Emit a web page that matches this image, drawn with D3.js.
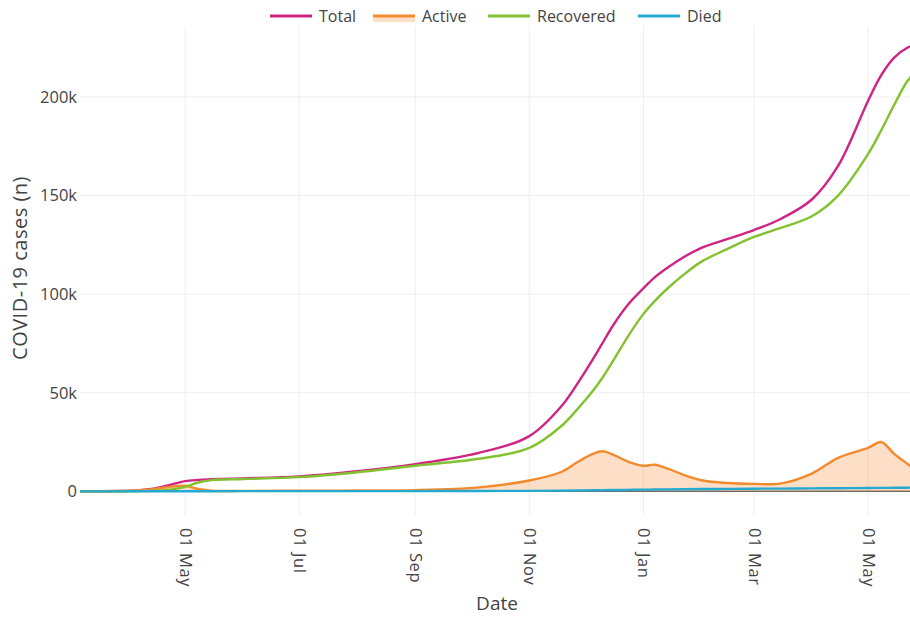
<!DOCTYPE html>
<html>
<head>
<meta charset="utf-8">
<script src="https://cdn.jsdelivr.net/npm/d3@7/dist/d3.min.js"></script>
<style>
  body { margin: 0; background: #fff; }
  text { font-family: 'Open Sans', 'DejaVu Sans', sans-serif; fill: #444; }
</style>
</head>
<body>
<svg id="chart" width="910" height="618"></svg>
<script>
// -----------
// DATOS
// -----------
const fechas = ['2020-03-06', '2020-03-25', '2020-04-05', '2020-04-15', '2020-04-22', '2020-05-01',
  '2020-05-08', '2020-05-15', '2020-06-01', '2020-07-01', '2020-08-01', '2020-09-01', '2020-10-05',
  '2020-11-01', '2020-11-18', '2020-11-27', '2020-12-05', '2020-12-10', '2020-12-16', '2020-12-24',
  '2021-01-01', '2021-01-07', '2021-01-14', '2021-01-22', '2021-02-01', '2021-02-15', '2021-03-01',
  '2021-03-15', '2021-04-01', '2021-04-15', '2021-05-01', '2021-05-08', '2021-05-15', '2021-05-22',
  '2021-05-28'];
const total = [0, 150, 500, 1500, 3000, 5200, 5800, 6100, 6600, 7600, 10200, 13800, 19500,
  28000, 43000, 55000, 67000, 75000, 84500, 95000, 103000, 108500, 113500, 118500, 123500,
  128000, 132500, 138000, 148000, 165000, 198000, 211000, 220000, 225000, 227000];
const active = [0, 120, 400, 1200, 2200, 2800, 1200, 300, 250, 300, 400, 600, 2000,
  5500, 9800, 15000, 19000, 20300, 18500, 15000, 13000, 13500, 11500, 8500, 5600,
  4200, 3800, 3900, 9000, 17000, 22000, 25000, 19000, 14000, 10000];
const recovered = [0, 20, 80, 280, 750, 2300, 4500, 5700, 6250, 7200, 9700, 13000, 16500,
  22000, 33000, 42000, 51000, 57500, 66500, 79000, 90000, 96500, 103000, 109500, 116500,
  123000, 129000, 133500, 139500, 150000, 171000, 183000, 196000, 208000, 214000];
const died = [0, 2, 10, 25, 40, 60, 70, 80, 90, 100, 110, 130, 180,
  250, 350, 450, 550, 600, 650, 750, 850, 900, 1000, 1050, 1150,
  1250, 1350, 1400, 1500, 1600, 1700, 1750, 1800, 1850, 1900];
const yTicks = [0, 50000, 100000, 150000, 200000];
const series = [
  { name: 'Total', values: total, color: '#cf2483' },
  { name: 'Active', values: active, color: '#f38a2e', fill: 'rgba(248, 150, 70, 0.3)' },
  { name: 'Recovered', values: recovered, color: '#82c12f' },
  { name: 'Died', values: died, color: '#25a9cf' },
];

const parseFecha = d3.utcParse('%Y-%m-%d');
const dias = fechas.map(parseFecha);

// -----------
// ESCALAS
// -----------
const W = 910;
const mLeft = 80;
const mTop = 26;
const mBottom = 515;

const x = d3.scaleUtc()
  .domain([parseFecha('2020-05-01'), parseFecha('2021-05-01')])
  .range([185, 868]);
const y = d3.scaleLinear()
  .domain([-12000, 236000])
  .range([mBottom, mTop]);

const svg = d3.select('#chart');

svg.append('clipPath').attr('id', 'clip')
  .append('rect')
  .attr('x', mLeft).attr('y', mTop)
  .attr('width', W - mLeft).attr('height', mBottom - mTop);

// grilla
const xTicks = d3.utcMonth.every(2).range(x.invert(mLeft), x.invert(W + 40));
svg.append('g').selectAll('line').data(xTicks).join('line')
  .attr('x1', (d) => x(d)).attr('x2', (d) => x(d))
  .attr('y1', mTop).attr('y2', mBottom)
  .attr('stroke', '#eee').attr('stroke-width', 1);
svg.append('g').selectAll('line').data(yTicks.filter((d) => d !== 0)).join('line')
  .attr('x1', mLeft).attr('x2', W)
  .attr('y1', (d) => y(d)).attr('y2', (d) => y(d))
  .attr('stroke', '#eee').attr('stroke-width', 1);

// linea cero
svg.append('line')
  .attr('x1', mLeft).attr('x2', W)
  .attr('y1', y(0)).attr('y2', y(0))
  .attr('stroke', '#666').attr('stroke-width', 1.5);

// -----------
// SERIES
// -----------
const plot = svg.append('g').attr('clip-path', 'url(#clip)');
const idx = d3.range(fechas.length);
const curva = d3.curveCatmullRom.alpha(0.5);

const area = d3.area()
  .x((i) => x(dias[i]))
  .y0(y(0))
  .y1((i) => y(active[i]))
  .curve(curva);
plot.append('path')
  .datum(idx)
  .attr('d', area)
  .attr('fill', series[1].fill);

series.forEach((s) => {
  const line = d3.line()
    .x((i) => x(dias[i]))
    .y((i) => y(s.values[i]))
    .curve(curva);
  plot.append('path')
    .datum(idx)
    .attr('d', line)
    .attr('fill', 'none')
    .attr('stroke', s.color)
    .attr('stroke-width', 2.4)
    .attr('stroke-linejoin', 'round');
});

// -----------
// EJES
// -----------
const yAxis = d3.axisLeft(y)
  .tickValues(yTicks)
  .tickSize(0)
  .tickPadding(3)
  .tickFormat((d) => (d === 0 ? '0' : `${d / 1000}k`));
svg.append('g')
  .attr('transform', `translate(${mLeft},0)`)
  .call(yAxis)
  .call((g) => g.select('.domain').remove())
  .selectAll('text')
  .style('font-size', '16.5px')
  .attr('fill', '#444');

const xAxis = d3.axisBottom(x)
  .tickValues(xTicks)
  .tickSize(0)
  .tickFormat(d3.utcFormat('%d %b'));
svg.append('g')
  .attr('transform', `translate(0,${mBottom})`)
  .call(xAxis)
  .call((g) => g.select('.domain').remove())
  .selectAll('text')
  .style('font-size', '16.5px')
  .style('letter-spacing', '0.6px')
  .attr('fill', '#444')
  .attr('text-anchor', 'start')
  .attr('transform', 'rotate(90)')
  .attr('x', 13)
  .attr('y', 0)
  .attr('dy', '0.35em');

// titulos
svg.append('text')
  .attr('x', 497).attr('y', 610)
  .attr('text-anchor', 'middle')
  .style('font-size', '19px')
  .text('Date');
svg.append('text')
  .attr('transform', 'translate(27,268) rotate(-90)')
  .attr('text-anchor', 'middle')
  .style('font-size', '20px')
  .style('letter-spacing', '0.5px')
  .text('COVID-19 cases (n)');

// -----------
// LEYENDA
// -----------
const legendX = [270, 373, 488, 638];
const legend = svg.append('g');
series.forEach((s, i) => {
  const g = legend.append('g').attr('transform', `translate(${legendX[i]},16)`);
  if (s.fill) {
    g.append('rect').attr('x', 0).attr('y', 0).attr('width', 42).attr('height', 6)
      .attr('fill', s.fill);
  }
  g.append('line').attr('x1', 0).attr('x2', 42).attr('y1', 0).attr('y2', 0)
    .attr('stroke', s.color).attr('stroke-width', 3);
  g.append('text').attr('x', 49).attr('y', 0).attr('dy', '0.35em')
    .style('font-size', '16px')
    .text(s.name);
});
</script>
</body>
</html>
